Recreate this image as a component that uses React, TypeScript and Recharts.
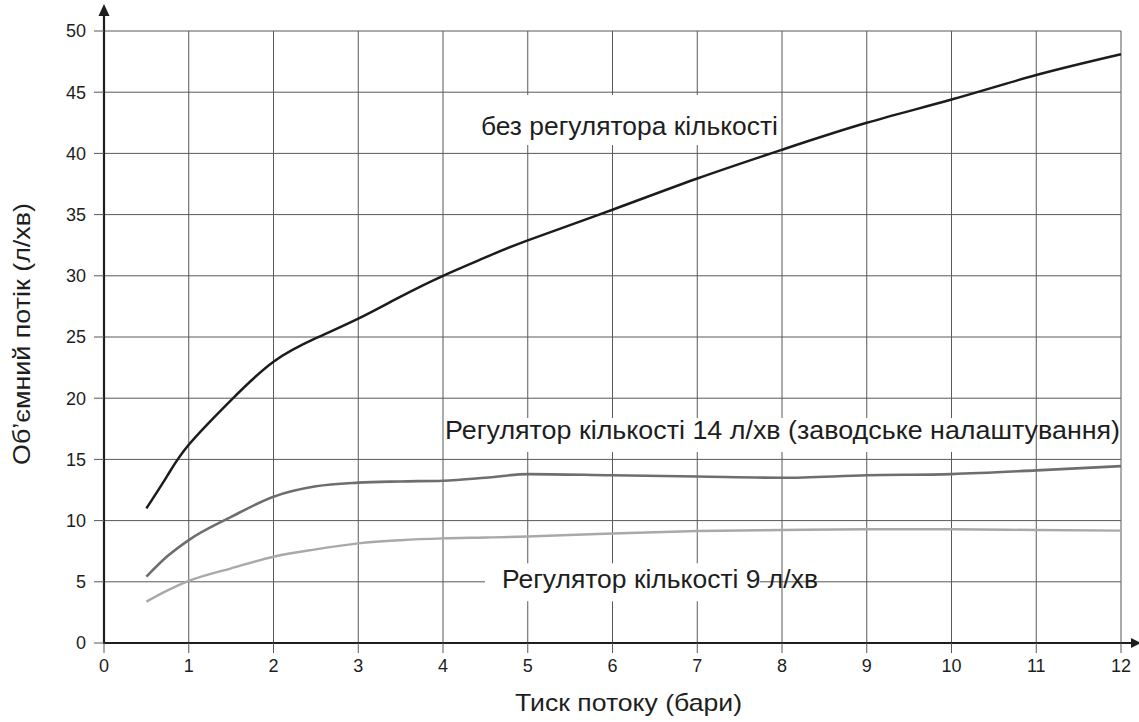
import React from 'react';
import {
  LineChart,
  Line,
  XAxis,
  YAxis,
  CartesianGrid,
  ReferenceLine,
  ReferenceDot,
  Label,
} from 'recharts';

const pressure = [0.5, 0.75, 1, 1.5, 2, 2.5, 3, 3.5, 4, 4.5, 5, 6, 7, 8, 9, 10, 11, 12];
const noRegulator = [11.0, 13.7, 16.2, 19.85, 22.98, 24.9, 26.5, 28.3, 30.0, 31.5, 32.9, 35.4, 37.95, 40.3, 42.5, 44.4, 46.4, 48.1];
const regulator14 = [5.42, 7.1, 8.41, 10.3, 11.95, 12.8, 13.1, 13.2, 13.26, 13.5, 13.8, 13.7, 13.6, 13.5, 13.7, 13.8, 14.1, 14.45];
const regulator9 = [3.38, 4.3, 5.07, 6.1, 7.05, 7.65, 8.14, 8.4, 8.55, 8.62, 8.7, 8.95, 9.15, 9.23, 9.29, 9.29, 9.23, 9.18];

const xTicks = [0, 1, 2, 3, 4, 5, 6, 7, 8, 9, 10, 11, 12];
const yTicks = [0, 5, 10, 15, 20, 25, 30, 35, 40, 45, 50];

const xTitle = 'Тиск потоку (бари)';
const yTitle = 'Об’ємний потік (л/хв)';
const label1 = 'без регулятора кількості';
const label2 = 'Регулятор кількості 14 л/хв (заводське налаштування)';
const label3 = 'Регулятор кількості 9 л/хв';

const data = pressure.map((p, i) => ({
  p,
  a: noRegulator[i],
  b: regulator14[i],
  c: regulator9[i],
}));

const FONT = '"Liberation Sans", Arial, Helvetica, sans-serif';
const TEXT = '#1e1e1e';
const GRID = '#595959';
const AXIS = '#1e1e1e';

const XAxisArrow = (props: any) => {
  const { x1, y1, x2 } = props;
  const left = Math.min(x1, x2);
  const right = Math.max(x1, x2);
  return (
    <g>
      <line x1={left - 1} y1={y1} x2={right + 12} y2={y1} stroke={AXIS} strokeWidth={2.2} />
      <polygon points={`${right + 10},${y1 - 5} ${right + 20},${y1} ${right + 10},${y1 + 5}`} fill={AXIS} />
    </g>
  );
};

const YAxisArrow = (props: any) => {
  const { x1, y1, y2 } = props;
  const top = Math.min(y1, y2);
  const bottom = Math.max(y1, y2);
  return (
    <g>
      <line x1={x1} y1={bottom + 1} x2={x1} y2={top - 16} stroke={AXIS} strokeWidth={2.2} />
      <polygon points={`${x1 - 5.5},${top - 15} ${x1},${top - 27} ${x1 + 5.5},${top - 15}`} fill={AXIS} />
    </g>
  );
};

const makeTextShape = (
  text: string,
  len: number,
  size: number,
  bg: { dx: number; dy: number; w: number; h: number }
) => (props: any) => {
  const { cx, cy } = props;
  return (
    <g>
      <rect x={cx - len / 2 + bg.dx} y={cy + bg.dy} width={bg.w} height={bg.h} fill="#fff" />
      <text
        x={cx}
        y={cy}
        textAnchor="middle"
        fontFamily={FONT}
        fontSize={size}
        fill={TEXT}
        textLength={len}
        lengthAdjust="spacingAndGlyphs"
      >
        {text}
      </text>
    </g>
  );
};

const Label1Shape = makeTextShape(label1, 297, 25, { dx: -14, dy: -40, w: 312, h: 50 });
const Label2Shape = makeTextShape(label2, 675, 25, { dx: 5, dy: -21, w: 580, h: 34 });
const Label3Shape = makeTextShape(label3, 316, 25, { dx: -17, dy: -25, w: 275, h: 38 });

const XTitle = (props: any) => {
  const vb = props.viewBox || { x: 104, y: 643, width: 1017, height: 40 };
  return (
    <text
      x={vb.x + vb.width / 2 + 16}
      y={711}
      textAnchor="middle"
      fontFamily={FONT}
      fontSize={24}
      fill={TEXT}
      textLength={227}
      lengthAdjust="spacingAndGlyphs"
    >
      {xTitle}
    </text>
  );
};

const YTitle = (props: any) => {
  const vb = props.viewBox || { x: 44, y: 31, width: 60, height: 612 };
  const cx = 30;
  const cy = vb.y + vb.height / 2 - 3;
  return (
    <text
      x={cx}
      y={cy}
      transform={`rotate(-90, ${cx}, ${cy})`}
      textAnchor="middle"
      fontFamily={FONT}
      fontSize={24}
      fill={TEXT}
      textLength={262}
      lengthAdjust="spacingAndGlyphs"
    >
      {yTitle}
    </text>
  );
};

export default function App() {
  return (
    <div style={{ position: 'absolute', left: 0, top: 0, background: '#fff' }}>
      <LineChart
        width={1139}
        height={722}
        data={data}
        margin={{ top: 31, right: 18, bottom: 39, left: 44 }}
      >
        <CartesianGrid stroke={GRID} strokeWidth={1} />
        <XAxis
          dataKey="p"
          type="number"
          domain={[0, 12]}
          ticks={xTicks}
          interval={0}
          height={40}
          axisLine={false}
          tickSize={10}
          tickMargin={6}
          tickLine={{ stroke: GRID, strokeWidth: 1 }}
          tick={{ fill: TEXT, fontSize: 18, fontFamily: FONT }}
        >
          <Label content={XTitle} />
        </XAxis>
        <YAxis
          type="number"
          domain={[0, 50]}
          ticks={yTicks}
          interval={0}
          width={60}
          axisLine={false}
          tickSize={10}
          tickMargin={8}
          tickLine={{ stroke: GRID, strokeWidth: 1 }}
          tick={{ fill: TEXT, fontSize: 18, fontFamily: FONT }}
        >
          <Label content={YTitle} />
        </YAxis>
        <ReferenceDot x={6.2} y={41.5} r={0} ifOverflow="visible" shape={Label1Shape} />
        <ReferenceDot x={8.007} y={16.67} r={0} ifOverflow="visible" shape={Label2Shape} />
        <ReferenceDot x={6.56} y={4.47} r={0} ifOverflow="visible" shape={Label3Shape} />
        <ReferenceLine
          segment={[{ x: 0, y: 0 }, { x: 12, y: 0 }]}
          ifOverflow="visible"
          shape={XAxisArrow}
        />
        <ReferenceLine
          segment={[{ x: 0, y: 0 }, { x: 0, y: 50 }]}
          ifOverflow="visible"
          shape={YAxisArrow}
        />
        <Line
          type="monotone"
          dataKey="c"
          stroke="#a9a9a9"
          strokeWidth={2.4}
          dot={false}
          isAnimationActive={false}
        />
        <Line
          type="monotone"
          dataKey="b"
          stroke="#6e6e6e"
          strokeWidth={2.6}
          dot={false}
          isAnimationActive={false}
        />
        <Line
          type="natural"
          dataKey="a"
          stroke="#1c1c1c"
          strokeWidth={2.5}
          dot={false}
          isAnimationActive={false}
        />
      </LineChart>
    </div>
  );
}
